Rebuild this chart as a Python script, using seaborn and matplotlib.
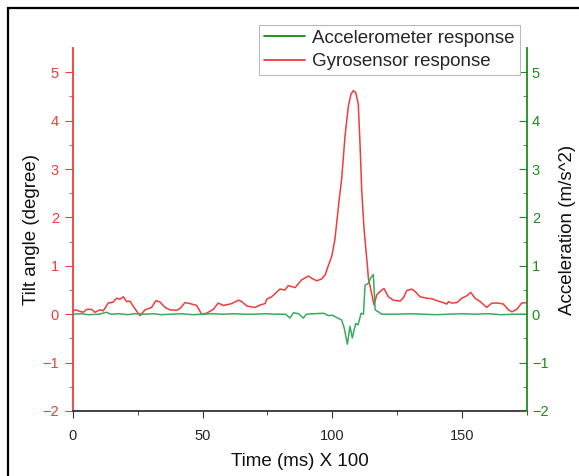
import seaborn as sns
import matplotlib.pyplot as plt
import pandas as pd
from matplotlib.lines import Line2D
from matplotlib.patches import Rectangle

# valores
gyro_t = [0, 1.2, 2.5, 4, 5.3, 7.2, 8.5, 10.4, 11.7, 13.6, 15.5, 16.8, 18.1, 19.4, 20.7, 22,
          23.3, 25.8, 27.8, 30.3, 32, 33.6, 35.5, 37.4, 40, 41.3, 43.2, 45.1, 47.7, 49.6,
          51.5, 54.1, 56, 58, 60.5, 61.2, 63.8, 65.1, 67, 70.2, 72.1, 74.1, 74.7, 76.6,
          79.8, 81.7, 83, 85.6, 88.2, 90.8, 92.1, 94, 95.9, 97.2, 98.5, 99.8, 101, 101.7,
          102.6, 103.6, 104.9, 106.2, 107.2, 108.1, 109, 110, 110.7, 111.3, 112.2, 113.5,
          113.9, 116.1, 117.1, 118.4, 119.9, 121.6, 123.5, 126.1, 127.4, 128.7, 130.6, 131.9,
          133.8, 136.4, 138.4, 140.3, 142.2, 144.1, 144.8, 146, 148, 149.9, 151.8, 153.4,
          155, 157, 159.5, 161.5, 164, 165.9, 167.9, 169.2, 171.1, 173, 175]
gyro_val = [0.07, 0.09, 0.06, 0.04, 0.1, 0.1, 0.04, 0.09, 0.07, 0.23, 0.25, 0.33, 0.31, 0.36,
            0.26, 0.27, 0.16, -0.03, 0.09, 0.14, 0.28, 0.25, 0.14, 0.09, 0.08, 0.12, 0.24,
            0.22, 0.18, 0.0, 0.02, 0.1, 0.23, 0.18, 0.21, 0.22, 0.29, 0.26, 0.17, 0.14, 0.19,
            0.22, 0.31, 0.36, 0.52, 0.5, 0.59, 0.55, 0.71, 0.79, 0.74, 0.69, 0.73, 0.81, 1.01,
            1.2, 1.55, 1.9, 2.35, 2.8, 3.69, 4.31, 4.55, 4.62, 4.58, 4.34, 3.48, 2.59, 1.77,
            1.01, 0.74, 0.19, 0.4, 0.47, 0.53, 0.36, 0.29, 0.27, 0.34, 0.49, 0.52, 0.47, 0.36,
            0.33, 0.32, 0.28, 0.25, 0.21, 0.26, 0.23, 0.24, 0.33, 0.38, 0.45, 0.33, 0.26, 0.14,
            0.23, 0.23, 0.21, 0.09, 0.05, 0.1, 0.23, 0.24]

acc_t = [0, 3, 6, 10, 13, 14.5, 18, 21, 24, 27, 31, 34, 38, 42, 46, 50, 54, 58, 62, 66, 70,
         74, 78, 82, 83.7, 85, 87, 88.8, 90, 93, 96.6, 98.5, 100, 101.7, 103.6, 104.6, 105.8,
         106.8, 107.7, 109, 109.9, 111.1, 112, 112.6, 113.9, 114.8, 115.8, 116.5, 117.7, 119,
         125, 130, 135, 140, 145, 150, 155, 160, 165, 170, 175]
acc_val = [0.0, 0.01, -0.01, 0.0, 0.04, 0.0, 0.01, -0.01, 0.01, 0.0, 0.01, -0.01, 0.0, 0.01,
           -0.01, 0.0, 0.01, 0.0, 0.01, 0.0, 0.0, 0.01, 0.0, 0.0, -0.08, 0.03, 0.01, -0.08,
           0.0, 0.01, 0.02, -0.03, -0.02, -0.07, -0.12, -0.29, -0.62, -0.25, -0.49, -0.19,
           -0.22, 0.02, 0.0, 0.6, 0.64, 0.75, 0.82, 0.09, 0.05, 0.0, 0.0, 0.01, 0.0, -0.01,
           0.0, 0.01, 0.0, 0.01, -0.01, 0.0, 0.0]

df_gyro = pd.DataFrame({"t": gyro_t, "v": gyro_val})
df_acc = pd.DataFrame({"t": acc_t, "v": acc_val})

sns.set_style("white")
plt.rcParams["font.family"] = ["Liberation Sans", "DejaVu Sans"]

vermelho = "#f03c3c"
verde_linha = "#3aaa5e"
verde_eixo = "#1e8c1e"

fig = plt.figure(figsize=(5.79, 4.76), dpi=100)
ax = fig.add_axes([0.126, 0.1366, 0.784, 0.7624])
ax2 = ax.twinx()

sns.lineplot(data=df_gyro, x="t", y="v", ax=ax, color=vermelho, lw=1.1, sort=False, estimator=None)
sns.lineplot(data=df_acc, x="t", y="v", ax=ax2, color=verde_linha, lw=1.1, sort=False, estimator=None)

for a in (ax, ax2):
    a.set_xlim(0, 175)
    a.set_ylim(-2, 5.5)
    a.set_yticks(range(-2, 6))
    a.set_yticks([i + 0.5 for i in range(-2, 5)], minor=True)
    a.spines["top"].set_visible(False)

ax.set_xticks([0, 50, 100, 150])
ax.set_xticks([25, 75, 125, 175], minor=True)

ax.spines["left"].set_color(vermelho)
ax.spines["left"].set_linewidth(1.3)
ax.spines["bottom"].set_color("#333333")
ax.spines["bottom"].set_linewidth(1.3)
ax.spines["right"].set_visible(False)
ax2.spines["left"].set_visible(False)
ax2.spines["bottom"].set_visible(False)
ax2.spines["right"].set_color(verde_eixo)
ax2.spines["right"].set_linewidth(1.3)

ax.tick_params(axis="y", which="both", direction="out", colors=vermelho, labelsize=10.5, left=True, pad=4)
ax.tick_params(axis="y", which="major", length=6)
ax.tick_params(axis="y", which="minor", length=3)
ax.tick_params(axis="x", which="both", direction="out", color="#333333", labelsize=10.5, bottom=True)
ax.tick_params(axis="x", which="major", length=5, pad=8)
ax.tick_params(axis="x", which="minor", length=3)
ax2.tick_params(axis="y", which="both", direction="in", colors=verde_eixo, labelsize=10.5, right=True)
ax2.tick_params(axis="y", which="major", length=6)
ax2.tick_params(axis="y", which="minor", length=3)

ax.set_xlabel("Time (ms) X 100", fontsize=13.5, color="#111111", labelpad=7)
ax.set_ylabel("Tilt angle (degree)", fontsize=13.5, color="#111111", labelpad=2)
ax2.set_ylabel("Acceleration (m/s^2)", fontsize=13.5, color="#111111", labelpad=8)

handles = [Line2D([], [], color="#108a10", lw=1.3), Line2D([], [], color=vermelho, lw=1.3)]
leg = fig.legend(handles, ["Accelerometer response", "Gyrosensor response"],
                 loc="upper left", bbox_to_anchor=(259 / 579, 1 - 25 / 476),
                 fontsize=13.5, fancybox=False, framealpha=1, edgecolor="#bbbbbb",
                 borderpad=0.25, handlelength=2.2, labelspacing=0.35, handletextpad=0.4,
                 borderaxespad=0)
leg.get_frame().set_linewidth(0.8)

# moldura preta da imagem original
fig.patches.append(Rectangle((8 / 579, -0.1), 1.1, 1.1 - 8 / 476, transform=fig.transFigure,
                             fill=False, edgecolor="black", lw=1.6, zorder=10))

fig.savefig("out.png", dpi=100)
